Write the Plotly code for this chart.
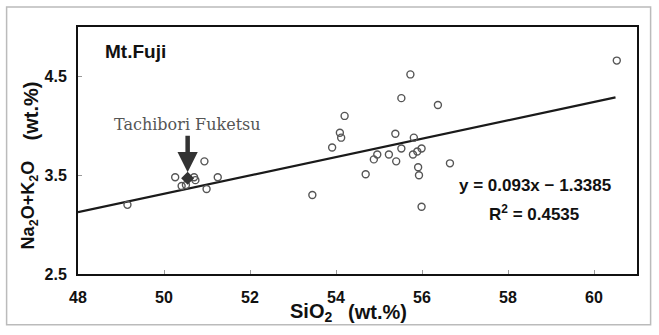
import plotly.graph_objects as go

# Data (SiO2 wt.%, Na2O+K2O wt.%)
sio2 = [49.15, 50.26, 50.41, 50.51, 50.73, 50.70, 50.94, 50.99, 51.25, 53.45,
        53.91, 54.09, 54.12, 54.20, 54.69, 54.88, 54.96, 55.23, 55.38, 55.40,
        55.52, 55.52, 55.73, 55.79, 55.81, 55.89, 55.91, 55.93, 55.99, 55.99,
        56.37, 56.65, 60.53]
alk = [3.20, 3.48, 3.39, 3.40, 3.45, 3.48, 3.64, 3.36, 3.48, 3.30,
       3.78, 3.93, 3.88, 4.10, 3.51, 3.66, 3.71, 3.71, 3.92, 3.64,
       3.77, 4.28, 4.52, 3.71, 3.88, 3.74, 3.58, 3.50, 3.77, 3.18,
       4.21, 3.62, 4.66]
tachibori_x = [50.55]
tachibori_y = [3.47]
slope = 0.093
intercept = -1.3385
fit_x = [48.0, 60.5]
fit_y = [slope * v + intercept for v in fit_x]
x_ticks = [48, 50, 52, 54, 56, 58, 60]
y_ticks = [2.5, 3.5, 4.5]

FONT = "Liberation Sans"
INK = "#111111"
PW, PH, PL, PB = 559.0, 247.3, 78.4, 274.3  # plot area geometry in px


def px_x(x):
    return (x - PL) / PW


def px_y(y):
    return (PB - y) / PH


fig = go.Figure()
fig.add_trace(go.Scatter(x=fit_x, y=fit_y, mode="lines",
                         line=dict(color="#1a1a1a", width=2.2), hoverinfo="skip"))
fig.add_trace(go.Scatter(x=sio2, y=alk, mode="markers",
                         marker=dict(symbol="circle-open", size=7, color="#555555",
                                     line=dict(width=1.4))))
fig.add_trace(go.Scatter(x=tachibori_x, y=tachibori_y, mode="markers",
                         marker=dict(symbol="diamond", size=10, color="#333333")))

fig.update_layout(
    width=659, height=335,
    margin=dict(l=78, r=22, t=27, b=61),
    paper_bgcolor="white", plot_bgcolor="white",
    showlegend=False,
    font=dict(family=FONT, color=INK),
)
fig.update_xaxes(range=[48, 61], tickvals=x_ticks, ticktext=[str(v) for v in x_ticks],
                 showgrid=False, zeroline=False,
                 showline=True, linecolor=INK, linewidth=2, mirror=True,
                 ticks="inside", ticklen=4, tickcolor="#999999",
                 ticklabelstandoff=8,
                 tickfont=dict(family=FONT, size=16, weight="bold", color=INK))
fig.update_yaxes(range=[2.5, 5.0], tickvals=y_ticks, ticktext=[str(v) for v in y_ticks],
                 showgrid=False, zeroline=False,
                 showline=True, linecolor=INK, linewidth=2, mirror=True,
                 ticks="inside", ticklen=4, tickcolor="#999999",
                 ticklabelstandoff=6,
                 tickfont=dict(family=FONT, size=16, weight="bold", color=INK))

# axis titles (placed as in the scanned original)
fig.add_annotation(xref="paper", yref="paper", x=px_x(311), y=px_y(313),
                   xanchor="center", yanchor="middle", showarrow=False,
                   text="SiO<sub>2</sub>",
                   font=dict(family=FONT, size=20, weight="bold", color=INK))
fig.add_annotation(xref="paper", yref="paper", x=px_x(378), y=px_y(312),
                   xanchor="center", yanchor="middle", showarrow=False,
                   text="(wt.%)",
                   font=dict(family=FONT, size=20, weight="bold", color=INK))
fig.add_annotation(xref="paper", yref="paper", x=px_y(0) * 0 + px_x(30), y=px_y(205),
                   xanchor="center", yanchor="middle", showarrow=False, textangle=-90,
                   text="Na<sub>2</sub>O+K<sub>2</sub>O",
                   font=dict(family=FONT, size=18, weight="bold", color=INK))
fig.add_annotation(xref="paper", yref="paper", x=px_x(31), y=px_y(111),
                   xanchor="center", yanchor="middle", showarrow=False, textangle=-90,
                   text="(wt.%)",
                   font=dict(family=FONT, size=20, weight="bold", color=INK))

fig.add_annotation(xref="paper", yref="paper", x=0.045, y=0.899, xanchor="left", yanchor="middle",
                   text="Mt.Fuji", showarrow=False,
                   font=dict(family=FONT, size=19, weight="bold", color=INK))
fig.add_annotation(x=50.55, y=3.53, ax=0, ay=-38, text="", showarrow=True,
                   arrowhead=2, arrowsize=0.9, arrowwidth=4.5, arrowcolor="#333333")
fig.add_annotation(x=50.55, y=4.01, xanchor="center", yanchor="middle",
                   text="Tachibori Fuketsu", showarrow=False,
                   font=dict(family="DejaVu Serif", size=16, color="#555555"))
fig.add_annotation(xref="paper", yref="paper", x=0.817, y=px_y(186),
                   xanchor="center", yanchor="middle",
                   text="y = 0.093x − 1.3385", showarrow=False,
                   font=dict(family=FONT, size=17, weight="bold", color=INK))
fig.add_annotation(xref="paper", yref="paper", x=0.815, y=px_y(213),
                   xanchor="center", yanchor="middle",
                   text="R<sup>2</sup> = 0.4535", showarrow=False,
                   font=dict(family=FONT, size=17, weight="bold", color=INK))

# faint outer frame of the scanned figure
fig.add_shape(type="rect", xref="paper", yref="paper",
              x0=px_x(7), x1=px_x(651), y0=px_y(325), y1=px_y(7),
              line=dict(color="#bbbbbb", width=1.5), layer="below")

fig.write_html("out.html")
